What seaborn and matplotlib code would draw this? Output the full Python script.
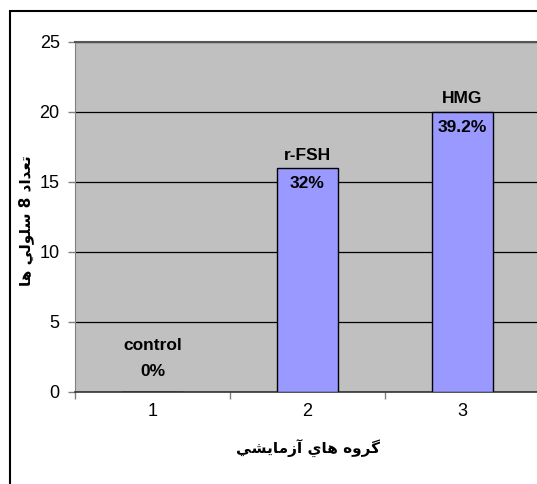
import matplotlib
matplotlib.use("Agg")
import matplotlib.pyplot as plt
import seaborn as sns
import pandas as pd
from matplotlib.patches import Rectangle

# chart data
groups = ["1", "2", "3"]
counts = [0, 16, 20]
group_names = ["control", "r-FSH", "HMG"]
percents = ["0%", "32%", "39.2%"]
y_ticks = [0, 5, 10, 15, 20, 25]
x_title = "گروه هاي آزمايشي"
y_title = "تعداد 8 سلولي ها"

# matplotlib does no arabic shaping, so pick presentation forms by hand
FORMS = {
    "ا": ("\uFE8D", "\uFE8E"),
    "آ": ("\uFE81", "\uFE82"),
    "د": ("\uFEA9", "\uFEAA"),
    "ر": ("\uFEAD", "\uFEAE"),
    "ز": ("\uFEAF", "\uFEB0"),
    "و": ("\uFEED", "\uFEEE"),
    "ت": ("\uFE95", "\uFE96", "\uFE97", "\uFE98"),
    "س": ("\uFEB1", "\uFEB2", "\uFEB3", "\uFEB4"),
    "ش": ("\uFEB5", "\uFEB6", "\uFEB7", "\uFEB8"),
    "ع": ("\uFEC9", "\uFECA", "\uFECB", "\uFECC"),
    "ل": ("\uFEDD", "\uFEDE", "\uFEDF", "\uFEE0"),
    "م": ("\uFEE1", "\uFEE2", "\uFEE3", "\uFEE4"),
    "ه": ("\uFEE9", "\uFEEA", "\uFEEB", "\uFEEC"),
    "ي": ("\uFEF1", "\uFEF2", "\uFEF3", "\uFEF4"),
    "گ": ("\uFB92", "\uFB93", "\uFB94", "\uFB95"),
}


def shape(text):
    """Join arabic letters and put them in visual (right to left) order."""
    out = []
    for i, ch in enumerate(text):
        f = FORMS.get(ch)
        if f is None:
            out.append(ch)
            continue
        prev = text[i - 1] if i > 0 else ""
        nxt = text[i + 1] if i + 1 < len(text) else ""
        jp = prev in FORMS and len(FORMS[prev]) == 4
        jn = len(f) == 4 and nxt in FORMS
        if jp and jn:
            out.append(f[3])
        elif jp:
            out.append(f[1])
        elif jn:
            out.append(f[2])
        else:
            out.append(f[0])
    return "".join(reversed(out))


sns.set_style("white")
plt.rcParams["font.family"] = ["Liberation Sans", "DejaVu Sans"]
plt.rcParams["text.color"] = "black"
plt.rcParams["axes.labelcolor"] = "black"

df = pd.DataFrame({"group": groups, "count": counts})

fig = plt.figure(figsize=(5.37, 4.84), dpi=100)
W, H = 537, 484
ax = fig.add_axes([75 / W, (H - 392) / H, 465 / W, 350 / H])
ax.set_facecolor("#C0C0C0")

# outer chart frame
fig.patches.append(Rectangle((10 / W, -0.1), 1.2, (H - 11) / H + 0.1,
                             transform=fig.transFigure, fill=False,
                             edgecolor="black", linewidth=1.5, clip_on=False))

sns.barplot(data=df, x="group", y="count", color="#9999FF", saturation=1,
            edgecolor="black", linewidth=1, width=0.39, ax=ax, zorder=3)

ax.set_ylim(0, 25)
ax.set_xlim(-0.5, 2.5)
ax.set_yticks(y_ticks)
ax.yaxis.grid(True, color="black", linewidth=0.9, zorder=1)
ax.set_axisbelow(True)

for side in ["left", "top", "bottom"]:
    ax.spines[side].set_visible(True)
ax.spines["left"].set_color("#808080")
ax.spines["top"].set_color("#555555")
ax.spines["top"].set_linewidth(1.5)
ax.spines["right"].set_visible(False)
ax.spines["bottom"].set_color("#333333")
ax.spines["bottom"].set_linewidth(1.2)

ax.tick_params(axis="y", length=5, width=1, color="#808080", direction="out",
               pad=6, labelsize=13, labelcolor="black", left=True)
ax.set_xticks([-0.5, 0.5, 1.5, 2.5], minor=True)
ax.tick_params(axis="x", which="minor", length=5, width=1, color="#808080",
               direction="out", bottom=True)
ax.tick_params(axis="x", which="major", length=0, pad=8, labelsize=13,
               labelcolor="black")

ax.set_xlabel(shape(x_title), fontsize=11, fontweight="bold", labelpad=14,
              family=["DejaVu Sans"])
ax.set_ylabel(shape(y_title), fontsize=11, fontweight="bold",
              family=["DejaVu Sans"])
ax.yaxis.set_label_coords(-0.088, 0.49)

# data labels
for i, (v, name, pct) in enumerate(zip(counts, group_names, percents)):
    if v == 0:
        name_off, pct_off = 47, 21
    else:
        name_off, pct_off = 13, -16
    ax.annotate(name, (i, v), xytext=(0, name_off), textcoords="offset pixels",
                ha="center", va="center", fontsize=12.5, fontweight="bold", zorder=5)
    ax.annotate(pct, (i, v), xytext=(0, pct_off), textcoords="offset pixels",
                ha="center", va="center", fontsize=12.5, fontweight="bold", zorder=5)

fig.savefig("out.png", dpi=100)
